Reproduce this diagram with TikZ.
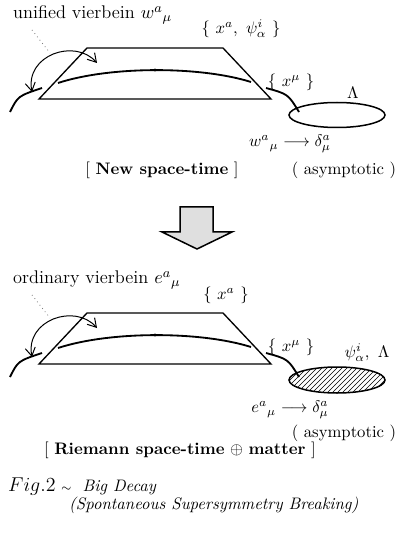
\documentclass[tikz,border=0pt]{standalone}
\usepackage{amsmath,amssymb}
\usetikzlibrary{patterns,shapes.geometric,arrows.meta}
\begin{document}
\begin{tikzpicture}[x=0.6pt,y=-0.6pt,
  sheet/.style={line width=0.8pt},
  world/.style={line width=1.1pt},
  twistarrow/.style={line width=0.6pt,<->,>={Straight Barb[length=5pt,width=6pt]}},
  leader/.style={gray,dotted,line width=0.5pt},
  lab/.style={inner sep=0.5pt,font=\normalsize},
  biglab/.style={inner sep=0.5pt,font=\fontsize{11}{13}\selectfont},
  blob/.style={line width=0.9pt}]
\useasboundingbox (0,0) rectangle (405,540);
% ---------- upper picture ----------
\node[biglab,anchor=west] (uv) at (12,15) {unified vierbein $w^a{}_\mu$};
\node[lab] (xa1) at (241,29) {$\{\ x^a,\ \psi^i_\alpha\ \}$};
\draw[sheet] (87,48) -- (223,48) -- (271,99) -- (39,99) -- cycle;
\draw[world] (58,83) .. controls (110,66) and (200,66) .. (251,82);
\fill (155,70) circle (1.6);
\draw[world] (10,112) .. controls (18,96) .. (42,88);
\draw[world] (266,88) .. controls (288,94) .. (299,112);
\node[lab] (xm1) at (291,82) {$\{\ x^\mu\ \}$};
\node[blob,draw,ellipse,minimum width=96*0.6pt,minimum height=25*0.6pt] (el1) at (337,115) {};
\node[lab] (L1) at (353,93) {$\Lambda$};
\coordinate (a1s) at (32,92);
\coordinate (a1e) at (97,63);
\draw[twistarrow] (a1s) .. controls (25,55) and (75,38) .. (a1e);
\coordinate (d1s) at (32,30);
\coordinate (d1e) at (50,53);
\draw[leader] (d1s) -- (d1e);
\node[lab] (lim1) at (290,144) {$w^a{}_\mu \longrightarrow \delta^a_\mu$};
\node[lab] (as1) at (344,170) {( asymptotic )};
\node[lab] (ns) at (162,170) {[ \textbf{New space-time} ]};
% ---------- big arrow ----------
\draw[line width=0.9pt,fill=gray!25] (180,207) -- (213,207) -- (213,232) -- (232,232) -- (197,249) -- (162,232) -- (180,232) -- cycle;
% ---------- lower picture ----------
\node[biglab,anchor=west] (ov) at (12,280) {ordinary vierbein $e^a{}_\mu$};
\node[lab] (xa2) at (226,295) {$\{\ x^a\ \}$};
\draw[sheet] (87,313) -- (223,313) -- (271,364) -- (39,364) -- cycle;
\draw[world] (58,348) .. controls (110,331) and (200,331) .. (251,347);
\fill (155,335) circle (1.6);
\draw[world] (10,377) .. controls (18,361) .. (42,353);
\draw[world] (266,353) .. controls (288,359) .. (299,377);
\node[lab] (xm2) at (291,347) {$\{\ x^\mu\ \}$};
\node[blob,draw,ellipse,pattern=north east lines,minimum width=96*0.6pt,minimum height=26*0.6pt] (el2) at (337,380) {};
\node[lab] (pL) at (367,353) {$\psi^i_\alpha,\ \Lambda$};
\coordinate (a2s) at (32,357);
\coordinate (a2e) at (97,328);
\draw[twistarrow] (a2s) .. controls (25,320) and (75,303) .. (a2e);
\coordinate (d2s) at (32,295);
\coordinate (d2e) at (50,318);
\draw[leader] (d2s) -- (d2e);
\node[lab] (lim2) at (290,410) {$e^a{}_\mu \longrightarrow \delta^a_\mu$};
\node[lab] (as2) at (344,433) {( asymptotic )};
\node[lab,anchor=west] (rs) at (43,450) {[ \textbf{Riemann space-time} $\oplus$ \textbf{matter} ]};
% ---------- caption ----------
\node[lab,anchor=base west] (fig) at (7,491) {{\large$Fig.2$} $\scriptstyle\sim$ \ \textit{Big Decay}};
\node[lab,anchor=base west] (sub) at (68,509) {\textit{(Spontaneous Supersymmetry Breaking)}};
\end{tikzpicture}
\end{document}
